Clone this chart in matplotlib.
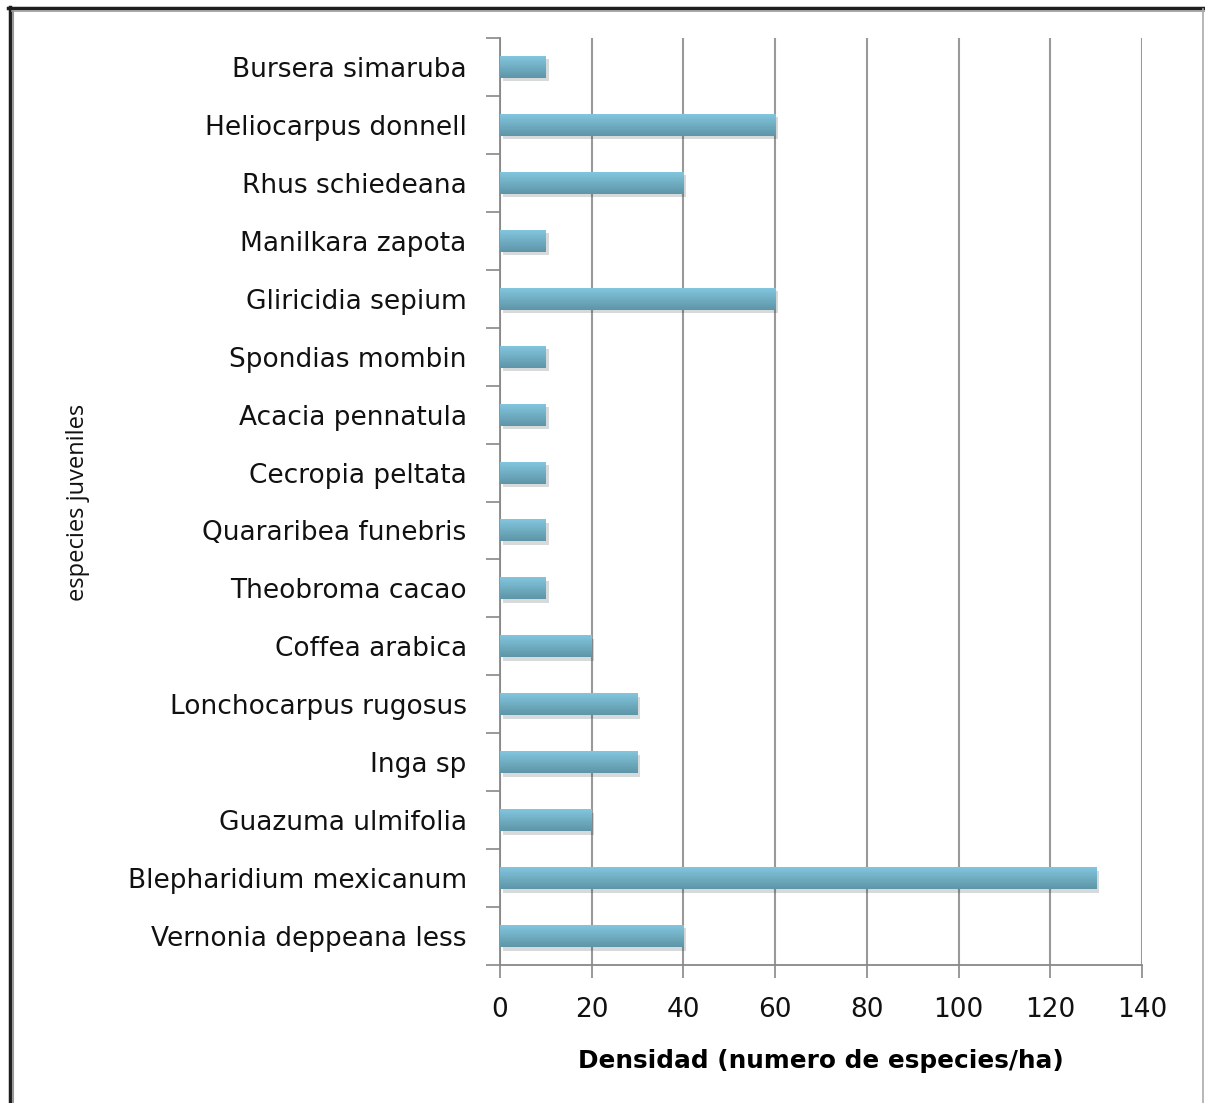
import numpy as np
import matplotlib
matplotlib.use("Agg")
import matplotlib.pyplot as plt
from matplotlib import patheffects as pe
from matplotlib.lines import Line2D
from matplotlib.colors import LinearSegmentedColormap

species = ["Bursera simaruba", "Heliocarpus donnell", "Rhus schiedeana", "Manilkara zapota",
           "Gliricidia sepium", "Spondias mombin", "Acacia pennatula", "Cecropia peltata",
           "Quararibea funebris", "Theobroma cacao", "Coffea arabica", "Lonchocarpus rugosus",
           "Inga sp", "Guazuma ulmifolia", "Blepharidium mexicanum", "Vernonia deppeana less"]
density = [10, 60, 40, 10, 60, 10, 10, 10, 10, 10, 20, 30, 30, 20, 130, 40]
xticks = [0, 20, 40, 60, 80, 100, 120, 140]
xlabel = "Densidad (numero de especies/ha)"
ylabel = "especies juveniles"

plt.rcParams['font.family'] = ['DejaVu Sans']

fig = plt.figure(figsize=(12.05, 11.03), dpi=100)
ax = fig.add_axes([500/1205, 1-965/1103, 642/1205, 927/1103])

ypos = np.arange(len(species))
bars = ax.barh(ypos, density, height=0.38, color="#72b0c6", zorder=3,
               path_effects=[pe.SimplePatchShadow(offset=(2, -2.5), alpha=0.18), pe.Normal()])

grad = np.linspace(0, 1, 64).reshape(-1, 1)
cmap = LinearSegmentedColormap.from_list("g", ["#84c8e0", "#5e95a7"])
for b in bars:
    x0, y0 = b.get_x(), b.get_y()
    w, h = b.get_width(), b.get_height()
    im = ax.imshow(grad, cmap=cmap, aspect="auto", extent=[x0, x0 + w, y0 + h, y0],
                   zorder=4, interpolation="bilinear")
    im.set_clip_path(b)

ax.set_xlim(0, 140)
ax.set_ylim(len(species) - 0.5, -0.5)
ax.set_xticks(xticks)
ax.set_xticklabels([str(t) for t in xticks], fontsize=19, color="#111111")
ax.set_yticks(ypos)
ax.set_yticklabels(species, fontsize=19, color="#111111")
ax.set_yticks(np.arange(-0.5, len(species)), minor=True)
ax.tick_params(axis="y", which="major", length=0, pad=24)
ax.tick_params(axis="y", which="minor", length=10, color="#888888", width=1.2)
ax.tick_params(axis="x", which="major", length=9, color="#888888", width=1.2, pad=14)

ax.grid(axis="x", color="#999999", linewidth=1.5, zorder=0)
for s in ["top", "right"]:
    ax.spines[s].set_visible(False)
for s in ["left", "bottom"]:
    ax.spines[s].set_color("#888888")
    ax.spines[s].set_linewidth(1.3)

ax.set_xlabel(xlabel, fontsize=17.8, fontweight="bold", labelpad=19)
fig.text(78/1205, 1-502/1103, ylabel, rotation=90, ha="center", va="center", fontsize=17,
         family=["Open Sans", "DejaVu Sans"], color="#111111")

# frame
fig.add_artist(Line2D([9.5/1205, 9.5/1205], [0, 1-7/1103], transform=fig.transFigure, color="#1e1e1e", lw=2.5))
fig.add_artist(Line2D([12.5/1205, 12.5/1205], [0, 1-10/1103], transform=fig.transFigure, color="#999999", lw=1.5))
fig.add_artist(Line2D([8/1205, 1], [1-8/1103, 1-8/1103], transform=fig.transFigure, color="#1e1e1e", lw=2.5))
fig.add_artist(Line2D([12/1205, 1], [1-10.5/1103, 1-10.5/1103], transform=fig.transFigure, color="#999999", lw=1.2))
fig.add_artist(Line2D([1203/1205, 1203/1205], [0, 1-9/1103], transform=fig.transFigure, color="#aaaaaa", lw=1.2))

fig.savefig("out.png", dpi=100)
